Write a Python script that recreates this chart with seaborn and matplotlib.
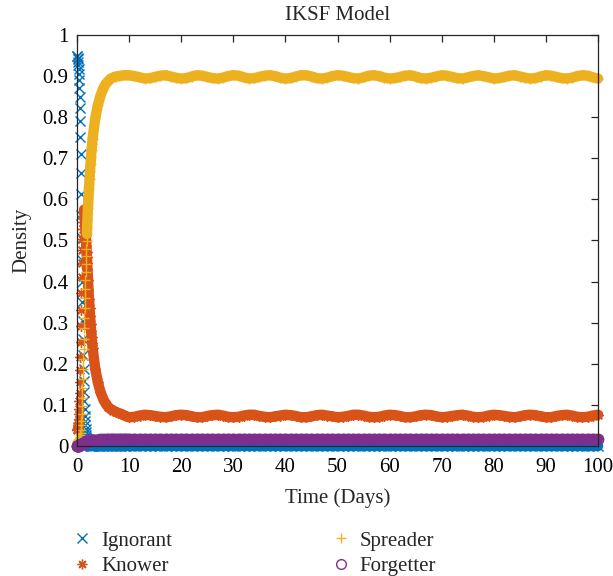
import matplotlib
matplotlib.use("Agg")
import matplotlib.pyplot as plt
from matplotlib.lines import Line2D
from matplotlib.ticker import MultipleLocator, FuncFormatter
import pandas as pd
import seaborn as sns

# Time grid of the solution (days): fine steps during the outbreak, daily afterwards
days = [
    0.00, 0.05, 0.10, 0.15, 0.20, 0.25, 0.30, 0.35, 0.40, 0.45,
    0.50, 0.55, 0.60, 0.65, 0.70, 0.75, 0.80, 0.85, 0.90, 0.95,
    1.00, 1.05, 1.10, 1.15, 1.20, 1.25, 1.30, 1.35, 1.40, 1.45,
    1.50, 1.55, 1.60, 1.65, 1.70, 1.75, 1.80, 1.85, 1.90, 1.95,
    2.0, 2.1, 2.2, 2.3, 2.4, 2.5, 2.6, 2.7, 2.8, 2.9, 3.0,
    3.5, 4.0, 4.5, 5.0, 5.5, 6.0, 6.5, 7.0, 7.5, 8.0, 8.5, 9.0, 9.5, 10,
    11, 12, 13, 14, 15, 16, 17, 18, 19, 20,
    21, 22, 23, 24, 25, 26, 27, 28, 29, 30,
    31, 32, 33, 34, 35, 36, 37, 38, 39, 40,
    41, 42, 43, 44, 45, 46, 47, 48, 49, 50,
    51, 52, 53, 54, 55, 56, 57, 58, 59, 60,
    61, 62, 63, 64, 65, 66, 67, 68, 69, 70,
    71, 72, 73, 74, 75, 76, 77, 78, 79, 80,
    81, 82, 83, 84, 85, 86, 87, 88, 89, 90,
    91, 92, 93, 94, 95, 96, 97, 98, 99, 100,
]

ignorant = [
    0.950, 0.948, 0.945, 0.941, 0.935, 0.928, 0.918, 0.906, 0.891, 0.872,
    0.849, 0.822, 0.790, 0.753, 0.711, 0.664, 0.614, 0.561, 0.507, 0.453,
    0.400, 0.350, 0.303, 0.260, 0.221, 0.187, 0.157, 0.131, 0.109, 0.090,
    0.074, 0.061, 0.050, 0.041, 0.033, 0.027, 0.022, 0.018, 0.014, 0.011,
    0.009, 0.006, 0.004, 0.003, 0.002, 0.001, 0.001, 0.001, 0.000, 0.000, 0.000,
    0.000, 0.000, 0.000, 0.000, 0.000, 0.000, 0.000, 0.000, 0.000, 0.000, 0.000, 0.000, 0.000, 0.000,
    0.000, 0.000, 0.000, 0.000, 0.000, 0.000, 0.000, 0.000, 0.000, 0.000,
    0.000, 0.000, 0.000, 0.000, 0.000, 0.000, 0.000, 0.000, 0.000, 0.000,
    0.000, 0.000, 0.000, 0.000, 0.000, 0.000, 0.000, 0.000, 0.000, 0.000,
    0.000, 0.000, 0.000, 0.000, 0.000, 0.000, 0.000, 0.000, 0.000, 0.000,
    0.000, 0.000, 0.000, 0.000, 0.000, 0.000, 0.000, 0.000, 0.000, 0.000,
    0.000, 0.000, 0.000, 0.000, 0.000, 0.000, 0.000, 0.000, 0.000, 0.000,
    0.000, 0.000, 0.000, 0.000, 0.000, 0.000, 0.000, 0.000, 0.000, 0.000,
    0.000, 0.000, 0.000, 0.000, 0.000, 0.000, 0.000, 0.000, 0.000, 0.000,
    0.000, 0.000, 0.000, 0.000, 0.000, 0.000, 0.000, 0.000, 0.000, 0.000,
]

knower = [
    0.040, 0.041, 0.043, 0.046, 0.051, 0.057, 0.066, 0.077, 0.091, 0.109,
    0.130, 0.155, 0.184, 0.217, 0.253, 0.292, 0.332, 0.372, 0.410, 0.445,
    0.476, 0.503, 0.527, 0.546, 0.560, 0.569, 0.574, 0.575, 0.572, 0.566,
    0.558, 0.548, 0.537, 0.525, 0.513, 0.500, 0.487, 0.473, 0.459, 0.445,
    0.430, 0.404, 0.380, 0.357, 0.336, 0.316, 0.298, 0.281, 0.265, 0.251, 0.238,
    0.188, 0.155, 0.132, 0.115, 0.103, 0.095, 0.089, 0.086, 0.083, 0.080, 0.078, 0.075, 0.072, 0.070,
    0.071, 0.074, 0.076, 0.075, 0.073, 0.071, 0.070, 0.072, 0.075, 0.076,
    0.075, 0.072, 0.070, 0.070, 0.073, 0.075, 0.076, 0.074, 0.071, 0.070,
    0.071, 0.074, 0.076, 0.076, 0.073, 0.071, 0.070, 0.072, 0.074, 0.076,
    0.075, 0.073, 0.070, 0.070, 0.072, 0.075, 0.076, 0.074, 0.072, 0.070,
    0.071, 0.073, 0.076, 0.076, 0.074, 0.071, 0.070, 0.071, 0.074, 0.076,
    0.075, 0.073, 0.070, 0.070, 0.072, 0.075, 0.076, 0.075, 0.072, 0.070,
    0.071, 0.073, 0.075, 0.076, 0.074, 0.071, 0.070, 0.071, 0.074, 0.076,
    0.075, 0.073, 0.071, 0.070, 0.072, 0.075, 0.076, 0.075, 0.072, 0.070,
    0.070, 0.073, 0.075, 0.076, 0.074, 0.071, 0.070, 0.071, 0.074, 0.076,
]

spreader = [
    0.010, 0.011, 0.012, 0.012, 0.013, 0.014, 0.015, 0.015, 0.016, 0.017,
    0.019, 0.020, 0.023, 0.027, 0.032, 0.040, 0.050, 0.062, 0.078, 0.097,
    0.118, 0.141, 0.164, 0.187, 0.212, 0.237, 0.261, 0.286, 0.311, 0.335,
    0.359, 0.382, 0.403, 0.424, 0.444, 0.463, 0.480, 0.498, 0.516, 0.533,
    0.549, 0.578, 0.604, 0.627, 0.649, 0.670, 0.687, 0.704, 0.721, 0.735, 0.748,
    0.797, 0.830, 0.852, 0.869, 0.881, 0.888, 0.894, 0.897, 0.899, 0.900, 0.901, 0.902, 0.902, 0.902,
    0.900, 0.897, 0.894, 0.895, 0.898, 0.901, 0.902, 0.899, 0.896, 0.894,
    0.895, 0.899, 0.902, 0.901, 0.898, 0.895, 0.894, 0.896, 0.900, 0.902,
    0.901, 0.897, 0.894, 0.895, 0.898, 0.901, 0.902, 0.900, 0.896, 0.894,
    0.895, 0.899, 0.902, 0.902, 0.899, 0.895, 0.894, 0.896, 0.900, 0.902,
    0.901, 0.898, 0.895, 0.894, 0.897, 0.901, 0.902, 0.900, 0.896, 0.894,
    0.895, 0.898, 0.901, 0.902, 0.899, 0.895, 0.894, 0.896, 0.899, 0.902,
    0.901, 0.898, 0.895, 0.894, 0.897, 0.900, 0.902, 0.900, 0.897, 0.894,
    0.895, 0.898, 0.901, 0.902, 0.899, 0.896, 0.894, 0.895, 0.899, 0.902,
    0.901, 0.898, 0.895, 0.894, 0.896, 0.900, 0.902, 0.901, 0.897, 0.894,
]

forgetter = [
    0.000, 0.000, 0.000, 0.001, 0.001, 0.001, 0.001, 0.002, 0.002, 0.002,
    0.002, 0.003, 0.003, 0.003, 0.004, 0.004, 0.004, 0.005, 0.005, 0.005,
    0.006, 0.006, 0.006, 0.007, 0.007, 0.007, 0.008, 0.008, 0.008, 0.009,
    0.009, 0.009, 0.010, 0.010, 0.010, 0.010, 0.011, 0.011, 0.011, 0.011,
    0.012, 0.012, 0.012, 0.013, 0.013, 0.013, 0.014, 0.014, 0.014, 0.014, 0.014,
    0.015, 0.015, 0.016, 0.016, 0.016, 0.017, 0.017, 0.017, 0.017, 0.017, 0.017, 0.017, 0.017, 0.017,
    0.017, 0.017, 0.017, 0.017, 0.017, 0.017, 0.017, 0.017, 0.017, 0.017,
    0.017, 0.017, 0.017, 0.017, 0.017, 0.017, 0.017, 0.017, 0.017, 0.017,
    0.017, 0.017, 0.017, 0.017, 0.017, 0.017, 0.017, 0.017, 0.017, 0.017,
    0.017, 0.017, 0.017, 0.017, 0.017, 0.017, 0.017, 0.017, 0.017, 0.017,
    0.017, 0.017, 0.017, 0.017, 0.017, 0.017, 0.017, 0.017, 0.017, 0.017,
    0.017, 0.017, 0.017, 0.017, 0.017, 0.017, 0.017, 0.017, 0.017, 0.017,
    0.017, 0.017, 0.017, 0.017, 0.017, 0.017, 0.017, 0.017, 0.017, 0.017,
    0.017, 0.017, 0.017, 0.017, 0.017, 0.017, 0.017, 0.017, 0.017, 0.017,
    0.017, 0.017, 0.017, 0.017, 0.017, 0.017, 0.017, 0.017, 0.017, 0.017,
]

series_names = ["Ignorant", "Knower", "Spreader", "Forgetter"]
series_colors = ["#0072BD", "#D95319", "#EDB120", "#7E2F8E"]
series_markers = ["x", (8, 2, 0), "+", "o"]
# where each trajectory becomes dense enough to read as a solid ribbon
ribbon_start = [2.0, 1.35, 1.9, 0.0]

x_ticks = [0, 10, 20, 30, 40, 50, 60, 70, 80, 90, 100]

sns.set_theme(style="white")
plt.rcParams["font.family"] = ["Liberation Serif", "DejaVu Serif"]
plt.rcParams["axes.edgecolor"] = "#262626"
plt.rcParams["axes.linewidth"] = 0.9

df = pd.DataFrame({"days": days, "Ignorant": ignorant, "Knower": knower,
                   "Spreader": spreader, "Forgetter": forgetter})

fig = plt.figure(figsize=(6.13, 5.76), dpi=100)
ax = fig.add_axes([77 / 613, 1 - 446 / 576, (598 - 77) / 613, (446 - 35) / 576])

for name, color, mk, start in zip(series_names, series_colors, series_markers, ribbon_start):
    dense = df[df["days"] >= start]
    sns.lineplot(data=dense, x="days", y=name, color=color, linewidth=7.5,
                 estimator=None, sort=False, ax=ax, clip_on=False,
                 solid_capstyle="round")
    sns.lineplot(data=df, x="days", y=name, color=color, linestyle="none",
                 marker=mk, markersize=7.5, markeredgewidth=1.0,
                 markeredgecolor=color, markerfacecolor="none",
                 estimator=None, sort=False, ax=ax, clip_on=False)

ax.set_xlim(0, 100)
ax.set_ylim(0, 1)
ax.set_xticks(x_ticks)
ax.yaxis.set_major_locator(MultipleLocator(0.1))
ax.yaxis.set_major_formatter(FuncFormatter(lambda v, _: f"{v:.1f}".rstrip("0").rstrip(".") if v else "0"))
ax.tick_params(direction="in", top=True, right=True, length=5, width=0.9,
               labelsize=15, colors="#262626", labelcolor="black")
ax.tick_params(axis="x", pad=9)
ax.tick_params(axis="y", pad=6)
for s in ax.spines.values():
    s.set_visible(True)

ax.set_title("IKSF Model", fontsize=15, pad=11)
ax.set_xlabel("Time (Days)", fontsize=15, labelpad=8)
ax.set_ylabel("Density", fontsize=15, labelpad=8)

handles = [Line2D([], [], color=c, marker=m, linestyle="none", markersize=7,
                  markeredgewidth=1.0, markerfacecolor="none")
           for c, m in zip(series_colors, series_markers)]
fig.legend(handles, series_names, ncol=2, loc="upper left",
           bbox_to_anchor=(72 / 613, 1 - 531 / 576), frameon=False, fontsize=15,
           handlelength=1.0, handletextpad=0.4, columnspacing=7.6,
           labelspacing=0.3, borderpad=0, borderaxespad=0)

fig.savefig("out.png", dpi=100, facecolor="white")
